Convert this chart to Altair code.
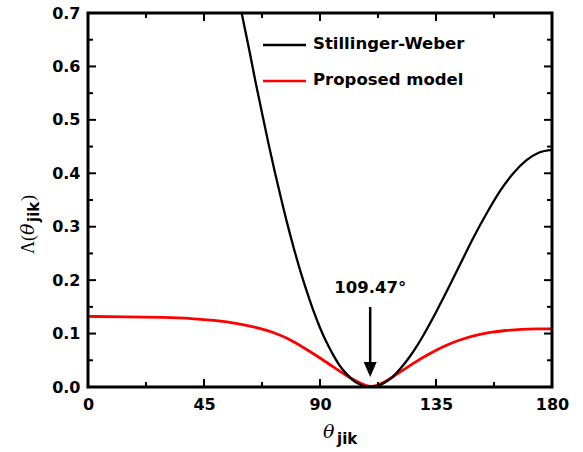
import altair as alt
import pandas as pd

# ---- data ----
theta_sw = [59.6, 62.5, 65, 67.5, 70, 72.5, 75, 77.5, 80, 82.5, 85, 87.5, 90,
            92.5, 95, 97.5, 100, 102.5, 105, 107.5, 109.47, 112.5, 115, 117.5,
            120, 122.5, 125, 127.5, 130, 135, 140, 145, 150, 155, 160, 165,
            170, 175, 180]
lam_sw = [0.700, 0.632, 0.571, 0.513, 0.456, 0.402, 0.351, 0.302, 0.257, 0.215,
          0.177, 0.142, 0.111, 0.084, 0.061, 0.041, 0.026, 0.014, 0.006, 0.001,
          0.000, 0.002, 0.008, 0.016, 0.028, 0.042, 0.058, 0.076, 0.096, 0.140,
          0.187, 0.236, 0.284, 0.328, 0.368, 0.400, 0.424, 0.439, 0.444]

theta_pm = [0, 15, 30, 40, 50, 58, 65, 72, 78, 84, 90, 95, 100, 104, 107, 109.47,
            112, 115, 118, 122, 127, 132, 138, 144, 150, 156, 162, 168, 174, 180]
lam_pm = [0.132, 0.1315, 0.1302, 0.1285, 0.1245, 0.119, 0.112, 0.1025, 0.090,
          0.0725, 0.0545, 0.038, 0.022, 0.011, 0.004, 0.000, 0.0025, 0.009, 0.018,
          0.031, 0.047, 0.061, 0.0765, 0.088, 0.0965, 0.1025, 0.106, 0.108,
          0.1088, 0.109]

series_names = ["Stillinger-Weber", "Proposed model"]
series_colors = ["#000000", "#ff0000"]

x_major = [0, 45, 90, 135, 180]
x_minor = [22.5, 67.5, 112.5, 157.5]
y_major = [0.0, 0.1, 0.2, 0.3, 0.4, 0.5, 0.6, 0.7]
y_minor = [0.05, 0.15, 0.25, 0.35, 0.45, 0.55, 0.65]

min_angle = [109.47]
min_label = ["109.47°"]

W, H = 464, 374
SANS = "DejaVu Sans"
SERIF = "Liberation Serif"

sw = pd.DataFrame({"theta": theta_sw, "lam": lam_sw})
pm = pd.DataFrame({"theta": theta_pm, "lam": lam_pm})

xs = alt.Scale(domain=[0, 180], nice=False)
ys = alt.Scale(domain=[0, 0.7], nice=False)

xaxis = alt.Axis(values=x_major, tickSize=0, domain=False, grid=False,
                 labelFont=SANS, labelFontWeight="bold", labelFontSize=16,
                 labelColor="black", labelPadding=9, title=None, labelFlush=False)
yaxis = alt.Axis(values=y_major, format=".1f", tickSize=0, domain=False, grid=False,
                 labelFont=SANS, labelFontWeight="bold", labelFontSize=16,
                 labelColor="black", labelPadding=8, title=None)

line_sw = alt.Chart(sw).mark_line(color=series_colors[0], strokeWidth=2.3,
                                  interpolate="monotone", clip=True).encode(
    x=alt.X("theta:Q", scale=xs, axis=xaxis),
    y=alt.Y("lam:Q", scale=ys, axis=yaxis),
)
line_pm = alt.Chart(pm).mark_line(color=series_colors[1], strokeWidth=2.8,
                                  interpolate="basis", clip=True).encode(
    x=alt.X("theta:Q", scale=xs),
    y=alt.Y("lam:Q", scale=ys),
)

# frame
one = alt.Data(values=[{"k": 0}])
frame = alt.Chart(one).mark_rect(fill=None, stroke="black", strokeWidth=3).encode(
    x=alt.value(0), x2=alt.value(W), y=alt.value(0), y2=alt.value(H))

# inward ticks on all four sides
def xticks(vals, length):
    d = pd.DataFrame({"t": vals})
    bottom = alt.Chart(d).mark_rule(color="black", strokeWidth=2).encode(
        x=alt.X("t:Q", scale=xs), y=alt.value(H), y2=alt.value(H - length))
    top = alt.Chart(d).mark_rule(color="black", strokeWidth=2).encode(
        x=alt.X("t:Q", scale=xs), y=alt.value(0), y2=alt.value(length))
    return [bottom, top]

def yticks(vals, length):
    d = pd.DataFrame({"t": vals})
    left = alt.Chart(d).mark_rule(color="black", strokeWidth=2).encode(
        y=alt.Y("t:Q", scale=ys), x=alt.value(0), x2=alt.value(length))
    right = alt.Chart(d).mark_rule(color="black", strokeWidth=2).encode(
        y=alt.Y("t:Q", scale=ys), x=alt.value(W), x2=alt.value(W - length))
    return [left, right]

ticks = xticks(x_major, 8) + xticks(x_minor, 5) + yticks(y_major, 8) + yticks(y_minor, 5)

# annotation with arrow
ann = pd.DataFrame({"theta": min_angle, "label": min_label})
ann_text = alt.Chart(ann).mark_text(font=SANS, fontWeight="bold", fontSize=16.5,
                                    align="center", baseline="alphabetic",
                                    color="black").encode(
    x=alt.X("theta:Q", scale=xs), y=alt.value(280), text="label:N")
ann_shaft = alt.Chart(ann).mark_rule(color="black", strokeWidth=2.5).encode(
    x=alt.X("theta:Q", scale=xs), y=alt.value(294), y2=alt.value(350))
ann_head = alt.Chart(ann).mark_point(shape="M-0.87,-1L0.87,-1L0,1Z", size=225,
                                     filled=True, color="black", opacity=1).encode(
    x=alt.X("theta:Q", scale=xs), y=alt.value(356.5))

# legend
leg_parts = []
for i, (nm, col) in enumerate(zip(series_names, series_colors)):
    yy = 32 if i == 0 else 68
    leg_parts.append(alt.Chart(one).mark_rule(color=col, strokeWidth=2.5).encode(
        x=alt.value(175), x2=alt.value(218), y=alt.value(yy)))
    leg_parts.append(alt.Chart(one).mark_text(font=SANS, fontWeight="bold",
                                              fontSize=16.5, align="left",
                                              baseline="middle", color="black").encode(
        x=alt.value(225), y=alt.value(yy - 1), text=alt.value(nm)))

# axis titles built from pieces
def piece(txt, x, y, font, size, weight="normal", style="normal", angle=0):
    return alt.Chart(one).mark_text(font=font, fontSize=size, fontWeight=weight,
                                    fontStyle=style, align="left",
                                    baseline="alphabetic", color="black",
                                    angle=angle).encode(
        x=alt.value(x), y=alt.value(y), text=alt.value(txt))

xtitle = [
    piece("θ", 235, 424.5, "DejaVu Serif", 19, style="italic"),
    piece("jik", 249, 430.5, SANS, 15, weight="bold"),
]
ytitle = [
    piece("Λ(", -54, 241, SERIF, 18, angle=270),
    piece("θ", -54, 222, "DejaVu Serif", 19, style="italic", angle=270),
    piece("jik", -49, 209, SANS, 15, weight="bold", angle=270),
    piece(")", -54, 188, SERIF, 18, angle=270),
]

chart = alt.layer(
    line_pm, line_sw, *ticks, frame, ann_shaft, ann_head, ann_text, *leg_parts,
    *xtitle, *ytitle
).properties(
    width=W, height=H, background="white",
    autosize=alt.AutoSizeParams(type="none"),
    padding={"left": 88, "top": 13, "right": 31, "bottom": 65},
).configure_view(stroke=None)

chart.save("out.html", embed_options={"renderer": "svg", "actions": False})
